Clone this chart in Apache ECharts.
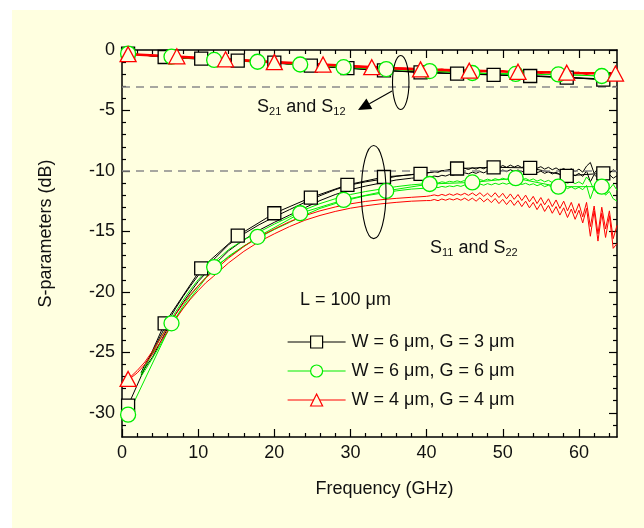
<!DOCTYPE html>
<html><head><meta charset="utf-8">
<script src="https://cdn.jsdelivr.net/npm/echarts@6/dist/echarts.min.js"></script>
<style>html,body{margin:0;padding:0;background:#fff;width:644px;height:528px;overflow:hidden}
#c{position:absolute;left:12px;top:10px;width:632px;height:518px;}</style>
</head><body><div id="c"></div>
<script>
// ---------- axis ticks ----------
const xMajor = [0, 10, 20, 30, 40, 50, 60];
const xMinor = [2, 4, 6, 8, 12, 14, 16, 18, 22, 24, 26, 28, 32, 34, 36, 38, 42, 44, 46, 48, 52, 54, 56, 58, 62, 64];
const yMajor = [-30, -25, -20, -15, -10, -5, 0];
const yMinor = [-31, -29, -28, -27, -26, -24, -23, -22, -21, -19, -18, -17, -16, -14, -13, -12, -11, -9, -8, -7, -6, -4, -3, -2, -1];
const refLines = [-3, -10];

// ---------- legend ----------
const legendNames = ['W = 6 μm, G = 3 μm', 'W = 6 μm, G = 6 μm', 'W = 4 μm, G = 4 μm'];

// ---------- S11 / S22 curves (GHz, dB) ----------
const fLow = [2.5, 3, 4, 5, 6, 7, 8, 9, 10, 11, 12, 14, 16, 18, 20, 22, 24, 26, 28, 30, 32, 34, 36, 38, 40];
const bkS11a = [-26.7, -26.0, -25.0, -23.7, -22.5, -21.4, -20.4, -19.5, -18.65, -17.95, -17.35, -16.1, -15.2, -14.45, -13.8, -13.2, -12.6, -12.05, -11.55, -11.15, -10.9, -10.7, -10.45, -10.3, -10.15];
const bkS11b = [-26.9, -26.3, -25.4, -24.2, -23.0, -21.9, -20.9, -20.0, -19.15, -18.45, -17.85, -16.6, -15.7, -14.9, -14.25, -13.65, -13.05, -12.45, -11.95, -11.55, -11.25, -11.0, -10.75, -10.6, -10.5];
const grS11a = [-26.8, -26.2, -25.1, -23.9, -22.8, -21.7, -20.7, -19.8, -19.0, -18.3, -17.6, -16.5, -15.7, -15.05, -14.4, -13.8, -13.2, -12.7, -12.3, -11.95, -11.7, -11.5, -11.3, -11.15, -11.05];
const grS11b = [-27.0, -26.5, -25.5, -24.4, -23.3, -22.2, -21.2, -20.3, -19.5, -18.8, -18.15, -17.05, -16.2, -15.5, -14.85, -14.25, -13.65, -13.1, -12.7, -12.35, -12.05, -11.85, -11.65, -11.5, -11.42];
const fLowR = [1, 2, 3, 4, 5, 6, 7, 8, 9, 10, 11, 12, 14, 16, 18, 20, 22, 24, 26, 28, 30, 32, 34, 36, 38, 40];
const rdS11a = [-27.1, -26.5, -25.8, -24.9, -23.9, -22.9, -21.9, -21.0, -20.2, -19.5, -18.85, -18.3, -17.2, -16.25, -15.45, -14.8, -14.2, -13.7, -13.3, -12.98, -12.72, -12.52, -12.38, -12.27, -12.18, -12.1];
const rdS11b = [-27.2, -26.7, -26.0, -25.15, -24.2, -23.25, -22.3, -21.4, -20.6, -19.9, -19.25, -18.72, -17.6, -16.65, -15.85, -15.2, -14.6, -14.08, -13.68, -13.35, -13.08, -12.88, -12.72, -12.6, -12.5, -12.45];

const fHi = [40.5, 41, 41.5, 42, 42.5, 43, 43.5, 44, 44.5, 45, 45.5, 46, 46.5, 47, 47.5, 48, 48.5, 49, 49.5, 50, 50.5, 51, 51.5, 52, 52.5, 53, 53.5, 54, 54.5, 55, 55.5, 56, 56.5, 57, 57.5, 58, 58.5, 59, 59.5, 60, 60.5, 61, 61.5, 62, 62.5, 63, 63.5, 64, 64.5, 65];
const bkS11aHi = [-10.12, -10.05, -10.12, -9.98, -10.04, -9.9, -9.98, -9.84, -9.92, -9.78, -9.88, -9.74, -9.85, -9.7, -9.82, -9.66, -9.78, -9.58, -9.72, -9.55, -9.7, -9.52, -9.68, -9.55, -9.72, -9.58, -9.75, -9.6, -9.78, -9.65, -9.85, -9.7, -9.9, -9.75, -9.95, -9.8, -10.0, -9.82, -10.05, -9.85, -10.1, -9.6, -9.3, -10.2, -9.8, -10.15, -9.85, -10.2, -9.9, -10.1];
const bkS11bHi = [-10.5, -10.42, -10.48, -10.36, -10.42, -10.3, -10.36, -10.22, -10.3, -10.16, -10.24, -10.1, -10.2, -10.05, -10.16, -10.0, -10.12, -9.95, -10.08, -9.92, -10.06, -9.9, -10.05, -9.92, -10.08, -9.95, -10.12, -9.98, -10.15, -10.02, -10.2, -10.06, -10.25, -10.1, -10.3, -10.15, -10.35, -10.18, -10.4, -10.2, -10.45, -10.0, -10.9, -10.3, -10.6, -10.25, -10.55, -10.3, -10.6, -10.4];
const grS11aHi = [-11.02, -10.95, -11.0, -10.9, -10.96, -10.86, -10.92, -10.82, -10.9, -10.78, -10.86, -10.74, -10.84, -10.72, -10.8, -10.68, -10.78, -10.64, -10.74, -10.6, -10.72, -10.58, -10.7, -10.6, -10.74, -10.62, -10.78, -10.66, -10.84, -10.72, -10.9, -10.78, -10.96, -10.84, -11.0, -10.86, -11.02, -10.88, -11.05, -10.9, -11.1, -10.5, -10.9, -11.6, -10.8, -11.2, -11.0, -11.5, -11.1, -11.6];
const grS11bHi = [-11.4, -11.32, -11.38, -11.28, -11.34, -11.24, -11.3, -11.2, -11.28, -11.16, -11.24, -11.12, -11.22, -11.08, -11.18, -11.05, -11.15, -11.02, -11.12, -11.0, -11.1, -10.98, -11.08, -11.0, -11.12, -11.02, -11.16, -11.06, -11.22, -11.1, -11.3, -11.18, -11.36, -11.24, -11.42, -11.28, -11.46, -11.32, -11.5, -11.35, -11.55, -11.2, -12.3, -11.4, -11.9, -11.5, -12.0, -11.7, -12.3, -12.5];
const rdS11aHi = [-12.05, -11.98, -12.06, -11.94, -12.04, -11.9, -12.02, -11.88, -12.0, -11.85, -12.02, -11.82, -12.05, -11.8, -12.1, -11.85, -12.15, -11.8, -12.2, -11.85, -12.3, -11.9, -12.35, -11.95, -12.45, -12.0, -12.55, -12.1, -12.7, -12.2, -12.8, -12.3, -12.95, -12.4, -13.1, -12.5, -13.3, -12.6, -13.5, -12.7, -13.8, -12.6, -14.6, -12.9, -15.2, -13.0, -14.8, -13.3, -15.6, -14.5];
const rdS11bHi = [-12.45, -12.36, -12.46, -12.32, -12.42, -12.3, -12.4, -12.28, -12.42, -12.25, -12.45, -12.25, -12.5, -12.22, -12.55, -12.3, -12.62, -12.28, -12.7, -12.35, -12.78, -12.4, -12.85, -12.45, -12.95, -12.5, -13.05, -12.6, -13.2, -12.7, -13.35, -12.85, -13.5, -12.95, -13.65, -13.05, -13.85, -13.15, -14.0, -13.25, -14.3, -13.1, -15.4, -13.3, -15.8, -13.5, -15.5, -13.7, -16.4, -16.0];

// ---------- S21 / S12 curves ----------
const fS21 = [1, 5, 10, 15, 20, 25, 30, 35, 40, 45, 50, 55, 60, 65];
const bkS21a = [-0.3, -0.55, -0.72, -0.88, -1.05, -1.3, -1.5, -1.7, -1.85, -1.95, -2.05, -2.15, -2.3, -2.45];
const bkS21b = [-0.3, -0.57, -0.75, -0.9, -1.08, -1.32, -1.53, -1.72, -1.88, -1.98, -2.1, -2.2, -2.33, -2.5];
const grS21a = [-0.3, -0.5, -0.75, -0.92, -1.05, -1.28, -1.45, -1.6, -1.73, -1.88, -1.98, -2.0, -2.08, -2.2];
const rdS21a = [-0.35, -0.48, -0.65, -0.82, -1.0, -1.16, -1.33, -1.5, -1.62, -1.7, -1.78, -1.84, -1.9, -1.95];
const fS12r = [1, 10, 20, 30, 40, 41, 42, 43, 44, 45, 46, 47, 48, 49, 50, 51, 52, 53, 54, 55, 56, 57, 58, 59, 60, 61, 62, 63, 64, 65];
const rdS12 = [-0.35, -0.66, -1.01, -1.34, -1.6, -1.68, -1.6, -1.72, -1.64, -1.76, -1.66, -1.8, -1.7, -1.84, -1.72, -1.86, -1.76, -1.9, -1.78, -1.92, -1.8, -1.95, -1.84, -1.96, -1.86, -2.0, -1.88, -2.02, -1.9, -1.98];

// ---------- markers ----------
const sqF = [0.8, 5.6, 10.4, 15.2, 20.0, 24.8, 29.6, 34.4, 39.2, 44.0, 48.8, 53.6, 58.4, 63.2];
const bkS11M = [-29.4, -22.6, -18.05, -15.35, -13.5, -12.2, -11.15, -10.5, -10.25, -9.8, -9.7, -9.75, -10.4, -10.2];
const bkS21M = [-0.3, -0.58, -0.72, -0.88, -1.05, -1.3, -1.5, -1.68, -1.85, -1.95, -2.05, -2.15, -2.28, -2.45];
const ciF = [0.8, 6.5, 12.1, 17.8, 23.4, 29.1, 34.7, 40.4, 46.0, 51.7, 57.3, 63.0];
const grS11M = [-30.15, -22.6, -17.95, -15.45, -13.5, -12.4, -11.65, -11.08, -10.95, -10.6, -11.3, -11.3];
const grS21M = [-0.3, -0.55, -0.82, -0.97, -1.2, -1.42, -1.58, -1.74, -1.9, -1.98, -2.02, -2.15];
const trF = [0.8, 7.2, 13.6, 20.0, 26.4, 32.8, 39.2, 45.6, 52.0, 58.4, 64.8];
const rdS21M = [-0.35, -0.52, -0.77, -1.0, -1.2, -1.42, -1.6, -1.71, -1.8, -1.88, -1.95];
const rdS11F = [0.8];
const rdS11M = [-27.2];

// ---------- annotations ----------
const ellipses = [[36.6, -2.69, 1.08, 2.23], [33.05, -11.75, 1.62, 3.85]];
const arrows = [[35.46, -3.39, 30.99, -4.96]];
const textPos = [[17.73, -4.8], [40.45, -16.46], [23.37, -20.76]];
const textStr = ['{m|S}{s|21}{m| and S}{s|12}', '{m|S}{s|11}{m| and S}{s|22}', '{m|L = 100 μm}'];

// ---------- styling ----------
const BG = '#FFFFE0';
const BK = '#000000', GR = '#00ee00', RD = '#ff0000';
const FONT = '"Liberation Sans", Arial, Helvetica, sans-serif';
const TXT = '#111';

const pairs = (xs, ys) => xs.map((x, i) => [x, ys[i]]);

function xAx(pos, minor, extra) {
  return Object.assign({
    type: 'value', min: 0, max: 65, position: pos,
    splitLine: { show: false },
    axisLine: { show: !minor, onZero: false, lineStyle: { color: '#000', width: 1.5 } },
    axisTick: { show: true, inside: true, length: minor ? 4 : 8, customValues: minor ? xMinor : xMajor, lineStyle: { color: '#000', width: 1.2 } },
    axisLabel: { show: false }
  }, extra || {});
}
function yAx(pos, minor, extra) {
  return Object.assign({
    type: 'value', min: -32, max: 0, position: pos,
    splitLine: { show: false },
    axisLine: { show: !minor, onZero: false, lineStyle: { color: '#000', width: 1.5 } },
    axisTick: { show: true, inside: true, length: minor ? 4 : 8, customValues: minor ? yMinor : yMajor, lineStyle: { color: '#000', width: 1.2 } },
    axisLabel: { show: false }
  }, extra || {});
}

function curve(data, color, width) {
  return { type: 'line', data: data, showSymbol: false, symbol: 'none', silent: true, z: 3,
    lineStyle: { color: color, width: width || 1 }, itemStyle: { color: color } };
}
function poly(data, color) {
  return { type: 'line', data: data, showSymbol: false, symbol: 'none', silent: true, z: 2,
    lineStyle: { color: color, width: 1 } };
}
function marks(data, symbol, size, color, z) {
  return { type: 'scatter', data: data, symbol: symbol, symbolSize: size, silent: true, z: z,
    itemStyle: { color: BG, borderColor: color, borderWidth: 1.3, opacity: 1 } };
}

const cols = [BK, GR, RD];
const syms = ['rect', 'circle', 'triangle'];
const legendSeries = legendNames.map((n, i) => ({
  type: 'line', name: n, data: [], symbol: syms[i], symbolSize: 12,
  itemStyle: { color: BG, borderColor: cols[i], borderWidth: 1.2 },
  lineStyle: { color: cols[i], width: 1.2 }
}));

const series = [].concat(legendSeries, [
  // marker polylines
  poly(pairs(sqF, bkS11M), BK),
  poly(pairs(ciF, grS11M), GR),
  // S21 curves
  Object.assign(curve(pairs(fS21, bkS21a), BK), {
    markLine: { silent: true, symbol: ['none', 'none'], label: { show: false },
      lineStyle: { color: '#8a8a8a', width: 1.5, type: [8, 6] },
      data: refLines.map(v => ({ yAxis: v })) }
  }),
  curve(pairs(fS21, bkS21b), BK),
  curve(pairs(sqF, bkS21M), BK),
  curve(pairs(fS21, grS21a), GR),
  curve(pairs(ciF, grS21M), GR),
  curve(pairs(fS12r, rdS12), RD, 1.5),
  curve(pairs(fS21, rdS21a), RD, 2.6),
  // S11 curves
  curve(pairs(fLow, bkS11a).concat(pairs(fHi, bkS11aHi)), BK),
  curve(pairs(fLow, bkS11b).concat(pairs(fHi, bkS11bHi)), BK),
  curve(pairs(fLow, grS11a).concat(pairs(fHi, grS11aHi)), GR),
  curve(pairs(fLow, grS11b).concat(pairs(fHi, grS11bHi)), GR),
  curve(pairs(fLowR, rdS11a).concat(pairs(fHi, rdS11aHi)), RD),
  curve(pairs(fLowR, rdS11b).concat(pairs(fHi, rdS11bHi)), RD),
  // markers
  marks(pairs(sqF, bkS21M).concat(pairs(sqF, bkS11M)), 'rect', 13, BK, 5),
  marks(pairs(ciF, grS21M).concat(pairs(ciF, grS11M)), 'circle', 15, GR, 6),
  marks(pairs(trF, rdS21M).concat(pairs(rdS11F, rdS11M)), 'triangle', [16, 15], RD, 7),
  // annotations
  { type: 'custom', data: ellipses, silent: true, z: 8,
    renderItem: (p, api) => {
      const c = api.coord([api.value(0), api.value(1)]);
      const s = api.size([api.value(2), api.value(3)]);
      return { type: 'ellipse', shape: { cx: c[0], cy: c[1], rx: s[0], ry: s[1] },
        style: { fill: 'none', stroke: '#000', lineWidth: 1.1 } };
    } },
  { type: 'custom', data: arrows, silent: true, z: 8,
    renderItem: (p, api) => {
      const a = api.coord([api.value(0), api.value(1)]);
      const b = api.coord([api.value(2), api.value(3)]);
      const dx = b[0] - a[0], dy = b[1] - a[1], L = Math.hypot(dx, dy);
      const ux = dx / L, uy = dy / L, hl = 13, hw = 6;
      const bx = b[0] - ux * hl, by = b[1] - uy * hl;
      return { type: 'group', children: [
        { type: 'line', shape: { x1: a[0], y1: a[1], x2: bx, y2: by }, style: { stroke: '#000', lineWidth: 1.1 } },
        { type: 'polygon', shape: { points: [[b[0], b[1]], [bx - uy * hw, by + ux * hw], [bx + uy * hw, by - ux * hw]] }, style: { fill: '#000' } }
      ] };
    } },
  { type: 'custom', data: textPos, silent: true, z: 8,
    renderItem: (p, api) => {
      const c = api.coord([api.value(0), api.value(1)]);
      return { type: 'text', x: c[0], y: c[1] - 10,
        style: { text: textStr[p.dataIndex], align: 'left', verticalAlign: 'top', fill: TXT,
          rich: {
            m: { fontSize: 18, lineHeight: 18, fontFamily: FONT, fill: TXT },
            s: { fontSize: 11, lineHeight: 11, padding: [9, 0, 0, 0], fontFamily: FONT, fill: TXT }
          } } };
    } }
]);

const chart = echarts.init(document.getElementById('c'), null, { renderer: 'canvas' });
chart.setOption({
  animation: false,
  backgroundColor: BG,
  grid: { left: 110, top: 40, width: 495, height: 387, containLabel: false },
  legend: {
    left: 270, top: 318, orient: 'vertical', itemWidth: 58, itemHeight: 15, itemGap: 11,
    selectedMode: false,
    textStyle: { fontSize: 18, fontFamily: FONT, color: TXT, lineHeight: 18, padding: [0, 0, 0, 1] },
    data: legendNames.map((n, i) => ({ name: n, itemStyle: { color: BG, borderColor: cols[i], borderWidth: 1.2 }, lineStyle: { color: cols[i], width: 1.2 } }))
  },
  xAxis: [
    xAx('bottom', false, {
      axisLabel: { show: true, customValues: xMajor, fontSize: 18, fontFamily: FONT, color: TXT, margin: 7 },
      name: 'Frequency (GHz)', nameLocation: 'middle', nameGap: 43,
      nameTextStyle: { fontSize: 18, fontFamily: FONT, color: TXT, padding: [0, 0, 0, 30] }
    }),
    xAx('top', false),
    xAx('bottom', true),
    xAx('top', true)
  ],
  yAxis: [
    yAx('left', false, {
      axisLabel: { show: true, customValues: yMajor, fontSize: 18, fontFamily: FONT, color: TXT, margin: 7 },
      name: 'S-parameters (dB)', nameLocation: 'middle', nameGap: 67,
      nameTextStyle: { fontSize: 18, fontFamily: FONT, color: TXT, padding: [0, 0, 0, 20] }
    }),
    yAx('right', false),
    yAx('left', true),
    yAx('right', true)
  ],
  series: series
});
</script></body></html>
